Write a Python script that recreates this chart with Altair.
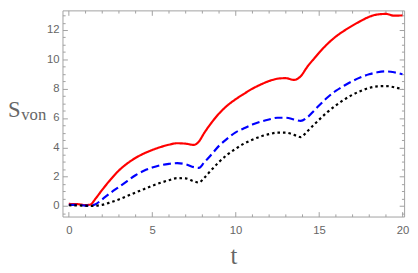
import altair as alt
import pandas as pd

# ---- data ----
t = [0, 0.5, 1, 1.3, 1.6, 2, 2.5, 3, 3.5, 4, 4.5, 5, 5.5, 6, 6.5, 7, 7.5, 7.8, 8.1, 8.5,
     9, 9.5, 10, 10.5, 11, 11.5, 12, 12.5, 13, 13.5, 13.9, 14.3, 14.7, 15, 15.5, 16,
     16.5, 17, 17.5, 18, 18.5, 19, 19.5, 20]
red = [0.14, 0.13, 0.06, 0.1, 0.5, 1.1, 1.8, 2.42, 2.9, 3.28, 3.58, 3.82, 4.02, 4.18, 4.28,
       4.25, 4.17, 4.4, 4.95, 5.6, 6.3, 6.85, 7.28, 7.65, 8.0, 8.28, 8.52, 8.68, 8.72, 8.6,
       8.85, 9.5, 10.05, 10.45, 11.05, 11.55, 11.95, 12.3, 12.62, 12.9, 13.06, 13.1, 12.98, 13.0]
blue = [0.08, 0.07, 0.03, 0.02, 0.12, 0.45, 0.9, 1.3, 1.7, 2.1, 2.4, 2.62, 2.78, 2.87, 2.92,
        2.85, 2.65, 2.6, 2.95, 3.45, 4.1, 4.6, 5.02, 5.3, 5.55, 5.75, 5.9, 6.02, 6.02, 5.9,
        5.8, 6.05, 6.5, 6.85, 7.4, 7.85, 8.2, 8.52, 8.78, 8.98, 9.12, 9.18, 9.12, 8.98]
black = [0.05, 0.04, 0.02, 0.0, 0.02, 0.08, 0.25, 0.45, 0.68, 0.92, 1.15, 1.38, 1.58, 1.76, 1.9,
         1.88, 1.68, 1.6, 1.9, 2.4, 3.0, 3.5, 3.9, 4.25, 4.52, 4.74, 4.9, 5.0, 5.0, 4.85,
         4.7, 5.1, 5.55, 5.88, 6.4, 6.85, 7.25, 7.58, 7.85, 8.05, 8.16, 8.18, 8.1, 7.96]

series_names = ["red", "blue", "black"]
series_colors = ["#ff0000", "#0000ff", "#000000"]
series_dash = [[1, 0], [8, 4], [2.6, 3]]

x_major = [0, 5, 10, 15, 20]
x_minor = [v for v in range(0, 21) if v % 5 != 0]
y_major = [0, 2, 4, 6, 8, 10, 12]
y_minor = [i * 0.5 for i in range(-1, 27) if (i * 0.5) % 2 != 0]

x_title = "t"
y_title_main = "S"
y_title_sub = "von"

rows = []
for name, vals in zip(series_names, [red, blue, black]):
    for tt, vv in zip(t, vals):
        rows.append({"t": tt, "v": vv, "s": name})
df = pd.DataFrame(rows)

FRAME = "#a0a0a0"
TXT = "#666666"
W, H = 348, 210

xs = alt.Scale(domain=[-0.38, 20.1], nice=False, zero=False)
ys = alt.Scale(domain=[-0.72, 13.34], nice=False, zero=False)


def ax(orient, values, size, labels=False, title=None, **kw):
    return alt.Axis(orient=orient, values=values, tickSize=size, offset=-size,
                    domain=False, grid=False, labels=labels, title=title,
                    tickColor=FRAME, tickWidth=1, **kw)


color = alt.Color("s:N", scale=alt.Scale(domain=series_names, range=series_colors), legend=None)
dash = alt.StrokeDash("s:N", scale=alt.Scale(domain=series_names, range=series_dash), legend=None)

base = alt.Chart(df)

main = base.mark_line(interpolate="monotone", strokeWidth=2.2, strokeCap="butt").encode(
    x=alt.X("t:Q", scale=xs, axis=ax("bottom", x_major, 5, labels=True, title=x_title,
                                      labelFont="Liberation Sans", labelFontSize=11.5,
                                      labelColor=TXT, labelPadding=8,
                                      titleFont="Liberation Serif", titleFontSize=25,
                                      titleFontWeight="normal", titleColor=TXT,
                                      titlePadding=8)),
    y=alt.Y("v:Q", scale=ys, axis=ax("left", y_major, 5, labels=True,
                                      labelFont="Liberation Sans", labelFontSize=11.5,
                                      labelColor=TXT, labelPadding=3.5)),
    color=color,
    strokeDash=dash,
    order=alt.Order("s:N"),
)


def ghost(xo, xv, xsz, yo, yv, ysz):
    return base.mark_line(opacity=0).encode(
        x=alt.X("t:Q", scale=xs, axis=ax(xo, xv, xsz)),
        y=alt.Y("v:Q", scale=ys, axis=ax(yo, yv, ysz)),
        detail="s:N",
    )


g1 = ghost("bottom", x_minor, 2.7, "left", y_minor, 2.7)
g2 = ghost("top", x_major, 5, "right", y_major, 5)
g3 = ghost("top", x_minor, 2.7, "right", y_minor, 2.7)

one = alt.Chart(pd.DataFrame({"k": [0]}))
s_txt = one.mark_text(font="Liberation Serif", fontSize=23, color=TXT, align="left",
                      baseline="alphabetic").encode(
    x=alt.value(-55.5), y=alt.value(109), text=alt.value(y_title_main))
von_txt = one.mark_text(font="Liberation Serif", fontSize=17, color=TXT, align="left",
                        baseline="alphabetic").encode(
    x=alt.value(-42), y=alt.value(112), text=alt.value(y_title_sub))

chart = alt.layer(main, g1, g2, g3, s_txt, von_txt).resolve_axis(
    x="independent", y="independent"
).properties(
    width=W, height=H,
    autosize=alt.AutoSizeParams(type="none"),
    padding={"left": 55.5, "top": 0, "right": 6, "bottom": 52},
).configure_view(stroke=FRAME, strokeWidth=1)

chart.save("out.html", embed_options={"renderer": "svg", "actions": False})
